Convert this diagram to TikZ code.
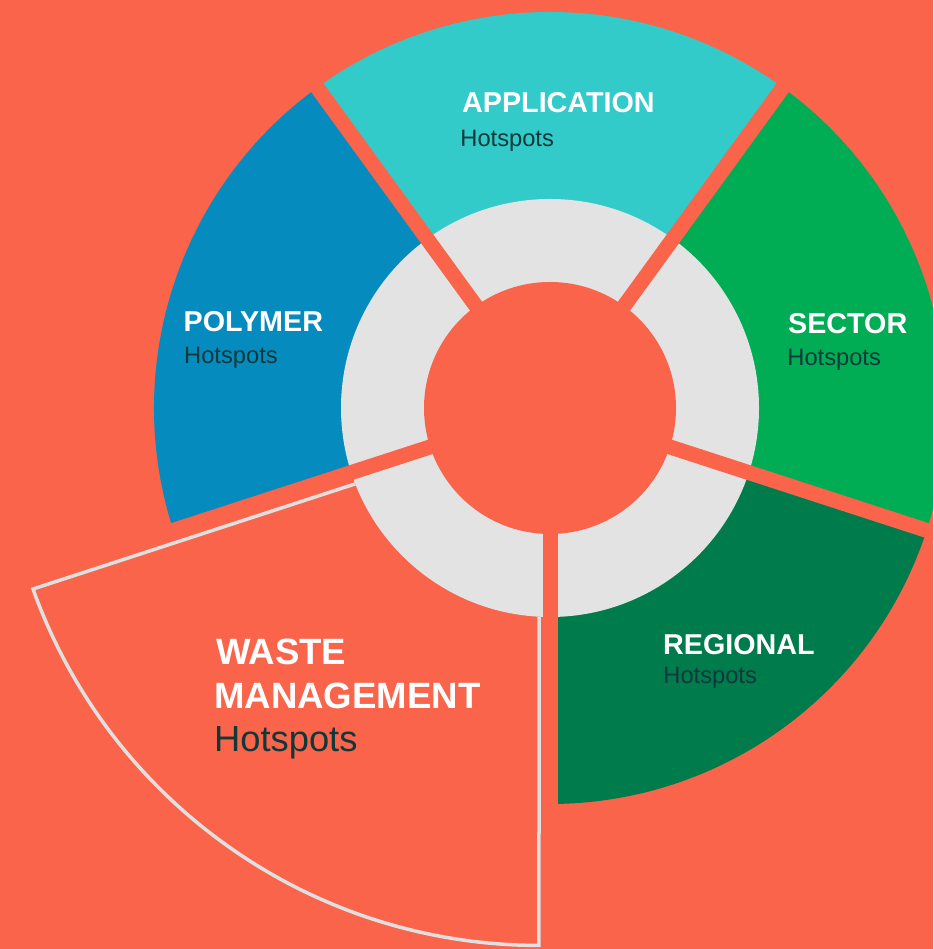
\documentclass[tikz,border=0pt]{standalone}
\usepackage{fontspec}
\setmainfont{Liberation Sans}
\usetikzlibrary{calc}
\definecolor{bgcoral}{RGB}{250,100,75}
\definecolor{appteal}{RGB}{51,203,201}
\definecolor{polyblue}{RGB}{6,139,191}
\definecolor{secgreen}{RGB}{0,173,85}
\definecolor{regdark}{RGB}{0,123,75}
\definecolor{ringgrey}{RGB}{227,227,227}
\definecolor{outlinegrey}{RGB}{224,224,224}
\definecolor{hotdark}{RGB}{14,56,58}
\begin{document}
\begin{tikzpicture}[x=1pt,y=1pt,
  title/.style={anchor=base west, inner sep=0pt, text=white, font=\fontsize{28.7}{30}\selectfont\bfseries},
  sub/.style={anchor=base west, inner sep=0pt, text=hotdark, font=\fontsize{23.7}{26}\selectfont},
  bigtitle/.style={anchor=base west, inner sep=0pt, text=white, font=\fontsize{36.6}{40}\selectfont\bfseries},
  bigsub/.style={anchor=base west, inner sep=0pt, text=hotdark, font=\fontsize{36.3}{40}\selectfont},
  spoke/.style={bgcoral, line width=15pt},
  wasteline/.style={outlinegrey, line width=3.5pt, line join=miter}]
\useasboundingbox (0,0) rectangle (933,949);
\clip (0,0) rectangle (933,949);
\fill[bgcoral] (0,0) rectangle (933,949);
\coordinate (C) at (550,541);
% outer coloured segments
\fill[appteal]   (C) -- ++(54:396)  arc[start angle=54,  end angle=126, radius=396] -- cycle;
\fill[polyblue]  (C) -- ++(126:396) arc[start angle=126, end angle=198, radius=396] -- cycle;
\fill[secgreen]  (C) -- ++(-18:396) arc[start angle=-18, end angle=54,  radius=396] -- cycle;
\fill[regdark]   (C) -- ++(270:396) arc[start angle=270, end angle=342, radius=396] -- cycle;
% grey ring and inner circle
\fill[ringgrey] (C) circle[radius=209];
\fill[bgcoral] (C) circle[radius=126];
% spokes
\foreach \a in {54,126,198,270,342} \draw[spoke] (C) -- ++(\a:640);
% waste management outline
\coordinate (wA) at ($(C)+(198:208.7)+(288:12)$);
\coordinate (wB) at (33,360);
\coordinate (wD) at (539,332.3);
\draw[wasteline] (wA) -- (wB) arc[start angle=199.68, end angle=270, radius=537.4] -- (wD);
% labels
\node[title] (appT) at (462,836) {APPLICATION};
\node[sub]   (appS) at (460.2,802.5) {Hotspots};
\node[title] (polT) at (183.5,617.3) {POLYMER};
\node[sub]   (polS) at (184,585.7) {Hotspots};
\node[title] (secT) at (788,615) {SECTOR};
\node[sub]   (secS) at (787.2,583.3) {Hotspots};
\node[title] (regT) at (663,294) {REGIONAL};
\node[sub]   (regS) at (663.2,265.7) {Hotspots};
\node[bigtitle] (wasT1) at (216,284) {WASTE};
\node[bigtitle] (wasT2) at (214,240.7) {MANAGEMENT};
\node[bigsub]   (wasS)  at (214,197.3) {Hotspots};
\end{tikzpicture}
\end{document}
